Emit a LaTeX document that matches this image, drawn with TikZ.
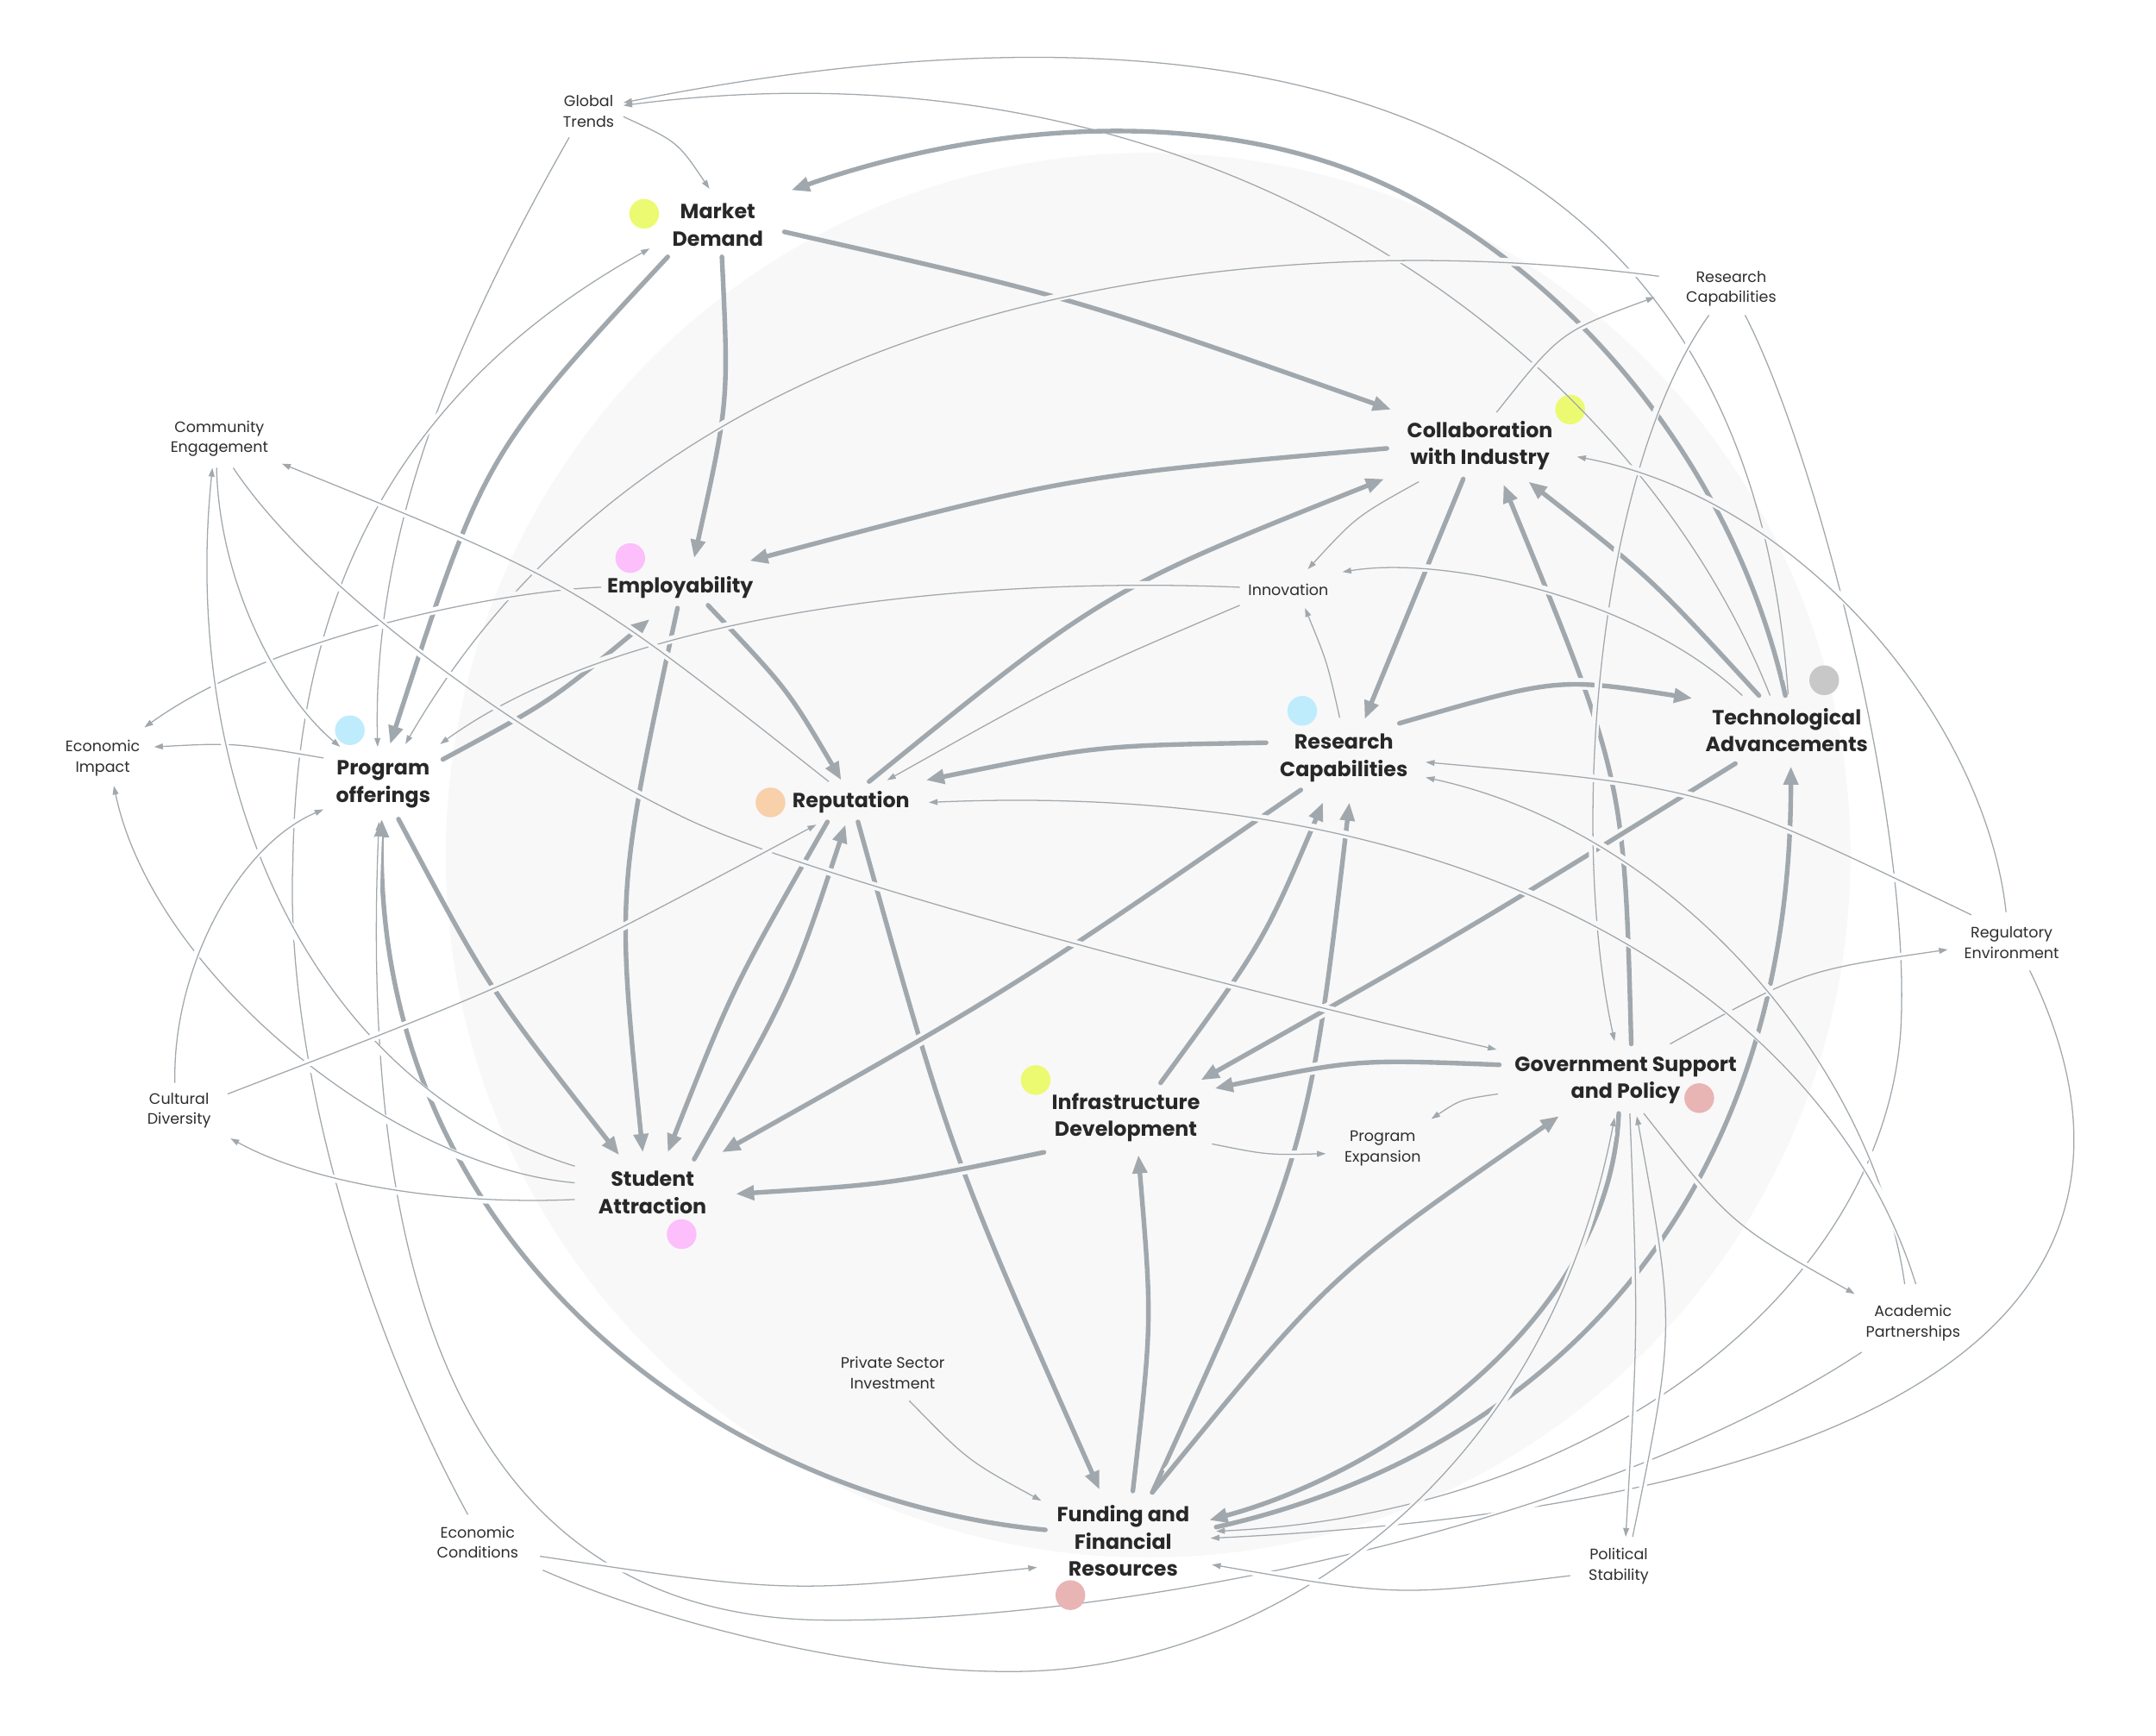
\documentclass[tikz,border=0pt]{standalone}
\usepackage{fontspec}
\setmainfont{Poppins}
\usetikzlibrary{calc,arrows.meta}
\definecolor{edgec}{RGB}{161,168,173}
\definecolor{bgc}{RGB}{248,248,248}
\definecolor{txtc}{RGB}{40,40,40}
\definecolor{txtc2}{RGB}{45,45,45}
\definecolor{dyel}{RGB}{236,250,114}
\definecolor{dpink}{RGB}{253,190,252}
\definecolor{dblue}{RGB}{191,236,253}
\definecolor{dgray}{RGB}{200,200,200}
\definecolor{dpeach}{RGB}{248,208,170}
\definecolor{drose}{RGB}{232,180,180}
\pgfdeclarelayer{fg}
\pgfsetlayers{main,fg}
% connector with a gap-making halo (white outside the disc, disc colour inside)
\newcommand\cnx[2]{%
  \path[#1halo,draw=white] #2;
  \begin{scope}\clip (827,616) circle[radius=10.12cm];\path[#1halo,draw=bgc] #2;\end{scope}
  \path[#1] #2;}
\begin{document}
\begin{tikzpicture}[x=0.02cm,y=-0.02cm,
  mainlbl/.style={align=center,font=\fontsize{8.4}{11.1}\selectfont\bfseries,text=txtc,inner sep=0pt},
  smalllbl/.style={align=center,font=\fontsize{6.2}{8.4}\selectfont,text=txtc2,inner sep=0pt},
  tk/.style={draw=edgec,line width=1.9pt,line cap=round,-{Triangle[length=7.5pt,width=5.8pt]}},
  tkhalo/.style={line width=4.6pt,line cap=butt,shorten <=10pt,shorten >=10pt},
  tn/.style={draw=edgec,line width=0.45pt,-{Triangle[length=3.6pt,width=2.4pt]}},
  tnhalo/.style={line width=3pt,line cap=butt,shorten <=6pt,shorten >=6pt},
  dotr/.style={radius=0.214cm}]
\useasboundingbox (0,0) rectangle (1553,1250);
\fill[bgc] (827,616) circle[radius=10.12cm];
\begin{pgfonlayer}{fg}
% main nodes
\node[mainlbl] (md) at (517,162) {Market\\Demand};
\node[mainlbl] (ci) at (1066,321) {Collaboration\\with Industry};
\node[mainlbl] (em) at (490,423) {Employability};
\node[mainlbl] (ta) at (1287,526) {Technological\\Advancements};
\node[mainlbl] (rc) at (968,546) {Research\\Capabilities};
\node[mainlbl] (po) at (276,565) {Program\\offerings};
\node[mainlbl] (re) at (613,578) {Reputation};
\node[mainlbl] (id) at (811,805) {Infrastructure\\Development};
\node[mainlbl] (gs) at (1171,778) {Government Support\\and Policy};
\node[mainlbl] (sa) at (470,859) {Student\\Attraction};
\node[mainlbl] (fr) at (809,1110) {Funding and\\Financial\\Resources};
% small nodes
\node[smalllbl] (gt) at (424,80) {Global\\Trends};
\node[smalllbl] (rcs) at (1247,208) {Research\\Capabilities};
\node[smalllbl] (ce) at (158,316) {Community\\Engagement};
\node[smalllbl] (inn) at (928,425) {Innovation};
\node[smalllbl] (ei) at (74,546) {Economic\\Impact};
\node[smalllbl] (reg) at (1449,679) {Regulatory\\Environment};
\node[smalllbl] (cd) at (129,800) {Cultural\\Diversity};
\node[smalllbl] (pe) at (996,827) {Program\\Expansion};
\node[smalllbl] (ap) at (1378,953) {Academic\\Partnerships};
\node[smalllbl] (psi) at (643,989) {Private Sector\\Investment};
\node[smalllbl] (ec) at (344,1111) {Economic\\Conditions};
\node[smalllbl] (ps) at (1166,1128) {Political\\Stability};
% dots
\fill[dyel] ($(md)+(-53,-8)$) circle[dotr];
\fill[dpink] ($(em)+(-36,-21)$) circle[dotr];
\fill[dgray] ($(ta)+(27,-36)$) circle[dotr];
\fill[dblue] ($(rc)+(-30,-34)$) circle[dotr];
\fill[dblue] ($(po)+(-24,-39)$) circle[dotr];
\fill[dpeach] ($(re)+(-58,0)$) circle[dotr];
\fill[dyel] ($(id)+(-65,-27)$) circle[dotr];
\fill[drose] ($(gs)+(53,13)$) circle[dotr];
\fill[dpink] ($(sa)+(21,30)$) circle[dotr];
\fill[drose] ($(fr)+(-38,39)$) circle[dotr];
\end{pgfonlayer}
\fill[dyel] ($(ci)+(65,-26)$) circle[dotr];
% thick connectors
\cnx{tk}{($(ta)+(-1,-25)$) .. controls (1250,340) and (1140,208) .. (1016,142) .. controls (890,75) and (720,85) .. ($(md)+(53,-25)$)}
\cnx{tk}{($(md)+(48,5)$) .. controls (772,214) .. ($(ci)+(-64,-26)$)}
\cnx{tk}{($(md)+(3,23)$) .. controls (525,289) .. ($(em)+(10,-21)$)}
\cnx{tk}{($(md)+(-36,23)$) .. controls (349,327) .. ($(po)+(5,-29)$)}
\cnx{tk}{($(ci)+(-67,2)$) .. controls (770,343) .. ($(em)+(50,-19)$)}
\cnx{tk}{($(re)+(13,-15)$) .. controls (796,425) .. ($(ci)+(-69,24)$)}
\cnx{tk}{($(ci)+(-12,24)$) -- ($(rc)+(15,-28)$)}
\cnx{tk}{($(gs)+(4,-26)$) .. controls (1170,561) .. ($(ci)+(17,28)$)}
\cnx{tk}{($(ta)+(-20,-25)$) .. controls (1189,416) .. ($(ci)+(35,26)$)}
\cnx{tk}{($(rc)+(40,-25)$) .. controls (1122,488) .. ($(ta)+(-68,-23)$)}
\cnx{tk}{($(rc)+(-56,-11)$) .. controls (790,537) .. ($(re)+(54,-16)$)}
\cnx{tk}{($(em)+(20,13)$) .. controls (567,496) .. ($(re)+(-7,-16)$)}
\cnx{tk}{($(em)+(-2,15)$) .. controls (444,642) .. ($(sa)+(-7,-29)$)}
\cnx{tk}{($(po)+(43,-18)$) .. controls (397,505) .. ($(em)+(-22,23)$)}
\cnx{tk}{($(po)+(11,25)$) .. controls (352,712) .. ($(sa)+(-24,-27)$)}
\cnx{tk}{($(fr)+(-56,-8)$) .. controls (520,1080) and (270,900) .. ($(po)+(-1,25)$)}
\cnx{tk}{($(re)+(-17,14)$) .. controls (528,711) .. ($(sa)+(11,-29)$)}
\cnx{tk}{($(sa)+(30,-24)$) .. controls (570,712) .. ($(re)+(-4,16)$)}
\cnx{tk}{($(re)+(5,14)$) .. controls (685,832) .. ($(fr)+(-17,-37)$)}
\cnx{tk}{($(rc)+(-31,23)$) .. controls (728,713) .. ($(sa)+(50,-29)$)}
\cnx{tk}{($(id)+(-59,25)$) .. controls (641,853) .. ($(sa)+(60,1)$)}
\cnx{tk}{($(id)+(25,-25)$) .. controls (910,679) .. ($(rc)+(-15,32)$)}
\cnx{tk}{($(fr)+(21,-35)$) .. controls (943,827) .. ($(rc)+(4,32)$)}
\cnx{tk}{($(gs)+(-91,-11)$) .. controls (977,763) .. ($(id)+(64,-21)$)}
\cnx{tk}{($(ta)+(-37,24)$) .. controls (1055,671) .. ($(id)+(54,-27)$)}
\cnx{tk}{($(fr)+(7,-36)$) .. controls (830,952) .. ($(id)+(9,27)$)}
\cnx{tk}{($(fr)+(21,-35)$) .. controls (958,918) .. ($(gs)+(-48,26)$)}
\cnx{tk}{($(gs)+(-5,24)$) .. controls (1160,950) and (1000,1060) .. ($(fr)+(62,-15)$)}
\cnx{tk}{($(fr)+(67,-10)$) .. controls (1100,1050) and (1290,880) .. ($(ta)+(3,26)$)}
% thin connectors
\cnx{tn}{($(ta)+(1,-26)$) .. controls (1255,20) and (820,0) .. ($(gt)+(25,-6)$)}
\draw[tn] ($(ta)+(-12,-25)$) .. controls (1180,260) and (880,20) .. ($(gt)+(25,-4)$);
\cnx{tn}{($(gt)+(25,4)$) .. controls (488,102) .. ($(md)+(-6,-26)$)}
\cnx{tn}{($(gt)+(-14,19)$) .. controls (330,240) and (268,380) .. ($(po)+(-4,-27)$)}
\cnx{tn}{($(ec)+(-7,-20)$) .. controls (260,950) and (205,760) .. (211,620) .. controls (213,480) and (250,300) .. ($(md)+(-49,17)$)}
\cnx{tn}{($(rcs)+(-52,-9)$) .. controls (900,160) and (480,210) .. ($(po)+(16,-29)$)}
\cnx{tn}{($(ci)+(12,-24)$) .. controls (1124,239) .. ($(rcs)+(-55,6)$)}
\cnx{tn}{($(rcs)+(-16,19)$) .. controls (1150,340) and (1130,600) .. ($(gs)+(-8,-28)$)}
\cnx{tn}{($(rcs)+(10,19)$) .. controls (1310,330) and (1378,600) .. (1369,744) .. controls (1355,930) and (1150,1090) .. ($(fr)+(67,-7)$)}
\cnx{tn}{($(gs)+(32,-26)$) .. controls (1299,699) .. ($(reg)+(-46,5)$)}
\cnx{tn}{($(reg)+(-4,-22)$) .. controls (1430,520) and (1300,360) .. ($(ci)+(70,8)$)}
\cnx{tn}{($(reg)+(-29,-20)$) .. controls (1229,567) .. ($(rc)+(59,3)$)}
\cnx{tn}{($(reg)+(13,20)$) .. controls (1560,900) and (1450,1080) .. ($(fr)+(63,-2)$)}
\cnx{tn}{($(ap)+(-6,-28)$) .. controls (1350,770) and (1210,600) .. ($(rc)+(59,14)$)}
\cnx{tn}{($(ap)+(2,-28)$) .. controls (1320,730) and (1080,560) .. ($(re)+(56,0)$)}
\cnx{tn}{($(gs)+(13,24)$) .. controls (1247,882) .. ($(ap)+(-42,-21)$)}
\cnx{tn}{($(ap)+(-37,21)$) .. controls (1150,1100) and (808,1169) .. (594,1167) .. controls (380,1165) and (255,1000) .. ($(po)+(-3,27)$)}
\cnx{tn}{($(ec)+(45,10)$) .. controls (568,1148) .. ($(fr)+(-62,19)$)}
\cnx{tn}{($(ec)+(47,20)$) .. controls (480,1170) and (620,1205) .. (730,1204) .. controls (900,1204) and (1110,1080) .. ($(gs)+(-8,27)$)}
\cnx{tn}{($(gs)+(3,24)$) .. controls (1180,955) .. ($(ps)+(5,-21)$)}
\cnx{tn}{($(ps)+(10,-21)$) .. controls (1207,956) .. ($(gs)+(8,26)$)}
\cnx{tn}{($(ps)+(-35,7)$) .. controls (1006,1150) .. ($(fr)+(64,17)$)}
\cnx{tn}{($(psi)+(12,20)$) .. controls (697,1052) .. ($(fr)+(-59,-29)$)}
\cnx{tn}{($(id)+(62,19)$) .. controls (913,832) .. ($(pe)+(-41,4)$)}
\cnx{tn}{($(gs)+(-92,10)$) .. controls (1052,792) .. ($(pe)+(35,-21)$)}
\cnx{tn}{($(ci)+(-44,26)$) .. controls (977,372) .. ($(inn)+(14,-15)$)}
\cnx{tn}{($(rc)+(-3,-29)$) .. controls (956,477) .. ($(inn)+(12,13)$)}
\cnx{tn}{($(ta)+(-32,-25)$) .. controls (1180,430) and (1040,400) .. ($(inn)+(39,-13)$)}
\cnx{tn}{($(inn)+(-35,-2)$) .. controls (700,415) and (450,440) .. ($(po)+(41,-29)$)}
\cnx{tn}{($(inn)+(-35,11)$) .. controls (771,488) .. ($(re)+(26,-16)$)}
\cnx{tn}{($(em)+(-57,0)$) .. controls (370,425) and (200,455) .. ($(ei)+(30,-22)$)}
\cnx{tn}{($(po)+(-43,-19)$) .. controls (169,535) .. ($(ei)+(37,-8)$)}
\cnx{tn}{($(ce)+(-2,21)$) .. controls (158,420) and (200,500) .. ($(po)+(-31,-27)$)}
\cnx{tn}{($(ce)+(10,21)$) .. controls (230,430) and (390,540) .. (495,590) .. controls (590,635) and (900,715) .. ($(gs)+(-93,-22)$)}
\cnx{tn}{($(re)+(-16,-15)$) .. controls (416,420) .. ($(ce)+(45,18)$)}
\cnx{tn}{($(sa)+(-56,-19)$) .. controls (220,780) and (130,560) .. ($(ce)+(-5,21)$)}
\cnx{tn}{($(sa)+(-56,-7)$) .. controls (280,840) and (110,700) .. ($(ei)+(8,20)$)}
\cnx{tn}{($(sa)+(-56,5)$) .. controls (330,868) and (230,855) .. ($(cd)+(37,20)$)}
\cnx{tn}{($(cd)+(-3,-20)$) .. controls (124,700) and (170,610) .. ($(po)+(-43,18)$)}
\cnx{tn}{($(cd)+(35,-12)$) .. controls (382,704) .. ($(re)+(-25,16)$)}
\end{tikzpicture}
\end{document}
